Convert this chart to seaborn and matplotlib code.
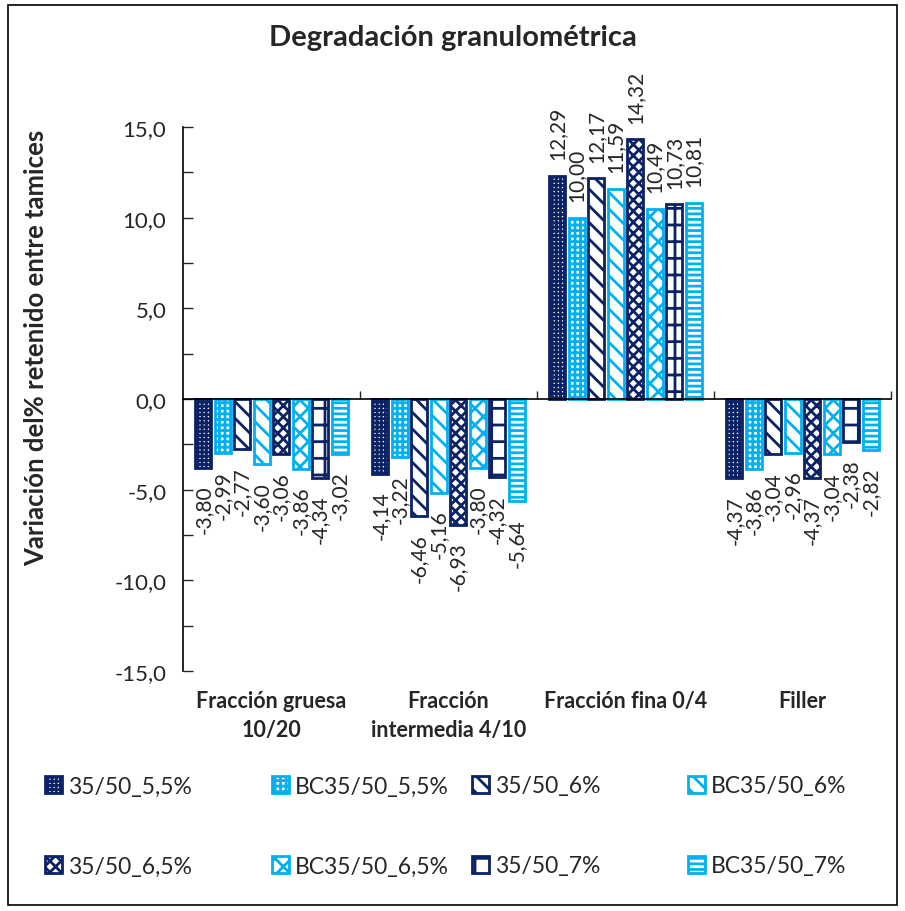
import matplotlib
matplotlib.use("Agg")
import matplotlib.pyplot as plt
import seaborn as sns
import pandas as pd
import numpy as np
from matplotlib.patches import Rectangle
from matplotlib.transforms import blended_transform_factory

categories = ["Fracción gruesa\n10/20", "Fracción\nintermedia 4/10", "Fracción fina 0/4", "Filler"]
series = ["35/50_5,5%", "BC35/50_5,5%", "35/50_6%", "BC35/50_6%",
          "35/50_6,5%", "BC35/50_6,5%", "35/50_7%", "BC35/50_7%"]
v_gruesa = [-3.80, -2.99, -2.77, -3.60, -3.06, -3.86, -4.34, -3.02]
v_intermedia = [-4.14, -3.22, -6.46, -5.16, -6.93, -3.80, -4.32, -5.64]
v_fina = [12.29, 10.00, 12.17, 11.59, 14.32, 10.49, 10.73, 10.81]
v_filler = [-4.37, -3.86, -3.04, -2.96, -4.37, -3.04, -2.38, -2.82]
yticks = [-15, -10, -5, 0, 5, 10, 15]

DARK = "#0B2265"
LIGHT = "#00B0F0"
colors = [DARK, LIGHT, DARK, LIGHT, DARK, LIGHT, DARK, LIGHT]
hatches = ["++++", "+++", "\\\\", "\\\\", "xxx", "xx", "-|", "---"]

rows = []
for cat, vals in zip(categories, [v_gruesa, v_intermedia, v_fina, v_filler]):
    for s, v in zip(series, vals):
        rows.append({"cat": cat, "serie": s, "val": v})
df = pd.DataFrame(rows)

sns.set_style("white")
plt.rcParams["font.family"] = ["Lato", "DejaVu Sans"]
plt.rcParams["hatch.linewidth"] = 2.0

fig = plt.figure(figsize=(9.05, 9.12), dpi=100)
ax = fig.add_axes([183/905, 1-672/912, (891-183)/905, (672-128)/912])

sns.barplot(data=df, x="cat", y="val", hue="serie", hue_order=series, order=categories,
            palette=["white"]*8, width=0.88, gap=0.18, ax=ax, legend=False, errorbar=None)

for i, cont in enumerate(ax.containers):
    for p in cont:
        p.set_facecolor("white")
        p.set_edgecolor(colors[i])
        p.set_linewidth(2.0)
        p.set_hatch(hatches[i])
    labels = [f"{v:.2f}".replace(".", ",") for v in cont.datavalues]
    ax.bar_label(cont, labels=labels, rotation=90, padding=12, fontsize=15)

ax.set_xlim(-0.5, 3.5)
ax.set_ylim(-15, 15)
ax.set_yticks(yticks)
ax.set_yticklabels([f"{t:.1f}".replace(".", ",") for t in yticks], fontsize=16)
ax.set_yticks(np.arange(-15, 15.1, 2.5), minor=True)
ax.tick_params(axis="y", which="both", direction="in", length=7, width=1, left=True, pad=12)
ax.set_xticks([0.5, 1.5, 2.5, 3.5])
ax.set_xticklabels([])
ax.tick_params(axis="x", which="major", direction="in", length=6, width=1, bottom=True)
ax.spines["bottom"].set_position(("data", 0))
ax.spines["top"].set_visible(False)
ax.spines["right"].set_visible(False)
for sp in ["left", "bottom"]:
    ax.spines[sp].set_color("black")
    ax.spines[sp].set_linewidth(1.2)
ax.set_xlabel("")
ax.set_ylabel("Variación del% retenido entre tamices", fontsize=18.5, fontweight="bold",
              va="center")
ax.yaxis.set_label_coords((36-183)/708, (672-348)/544)

tr = blended_transform_factory(ax.transData, ax.transAxes)
for i, c in enumerate(categories):
    ax.text(i, -0.035, c, transform=tr, ha="center", va="top", fontsize=15.5,
            fontweight="bold", linespacing=1.45)

fig.text(0.5, 1-38/912, "Degradación granulométrica", ha="center", va="center",
         fontsize=21, fontweight="bold")

xs = [45, 272, 472, 688]
ys = [787, 867]
for i, s in enumerate(series):
    h = ax.containers[i][0]
    x = xs[i % 4] / 905
    y = 1 - ys[i // 4] / 912
    fig.legend([h], [s], loc="center left", bbox_to_anchor=(x, y), frameon=False,
               fontsize=16.5, handlelength=0.75, handleheight=0.75, handletextpad=0.25,
               borderaxespad=0, borderpad=0)

fig.add_artist(Rectangle((8/905, 6/912), 889/905, 900/912, transform=fig.transFigure,
                         fill=False, edgecolor="black", linewidth=1.2))

fig.savefig("out.png", dpi=100)
